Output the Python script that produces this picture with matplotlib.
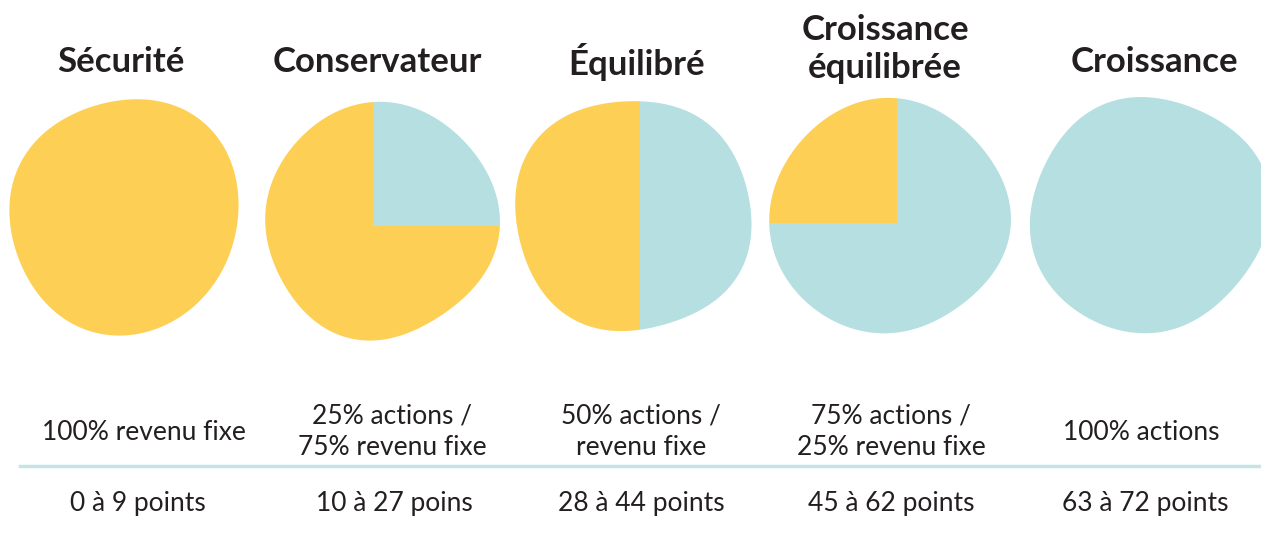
import numpy as np
import matplotlib.pyplot as plt
from matplotlib.path import Path

# Profils de placement
profils = ['Sécurité', 'Conservateur', 'Équilibré', 'Croissance\néquilibrée', 'Croissance']
actions = [0, 25, 50, 75, 100]
revenu_fixe = [100, 75, 50, 25, 0]
descriptions = ['100% revenu fixe', '25% actions /\n75% revenu fixe', '50% actions /\nrevenu fixe',
                '75% actions /\n25% revenu fixe', '100% actions']
points = ['0 à 9 points', '10 à 27 poins', '28 à 44 points', '45 à 62 points', '63 à 72 points']

JAUNE = '#FDD055'
TURQUOISE = '#B5DFE0'
TEXTE = '#231F20'
W, H = 1261, 534

# mise en page (px) : centre de chaque "blob" et rayon tous les 30° (contour irrégulier)
centres = [(125, 218), (373, 226), (640, 215), (897, 223), (1145, 216)]
contours = [
    [114, 119, 125, 117, 117, 118, 115, 115, 117, 118, 113, 110],
    [127, 125, 125, 124, 116, 112, 106, 108, 110, 116, 111, 119],
    [113, 110, 114, 115, 119, 131, 122, 125, 123, 114, 114, 113],
    [115, 113, 116, 126, 125, 128, 127, 123, 117, 108, 106, 106],
    [125, 127, 118, 120, 117, 113, 115, 117, 118, 116, 116, 115],
]
x_titres = [121, 377, 637, 885, 1154]
x_desc = [144, 392, 641, 891, 1141]
x_points = [138, 394, 641, 891, 1145]

plt.rcParams['font.family'] = ['Lato', 'DejaVu Sans']

fig = plt.figure(figsize=(W / 100, H / 100), dpi=100)
fig.patch.set_facecolor('white')


def px(x, y):
    return x / W, 1 - y / H


half = 150
for i in range(len(profils)):
    cx, cy = centres[i]
    # axes en unités pixel autour du centre
    ax = fig.add_axes([(cx - half) / W, 1 - (cy + half) / H, 2 * half / W, 2 * half / H])

    vals = [actions[i], revenu_fixe[i]]
    wedges, _ = ax.pie(vals, colors=[TURQUOISE, JAUNE], startangle=90, counterclock=False,
                       radius=170, wedgeprops=dict(linewidth=0))
    ax.set_aspect('auto')
    ax.set_xlim(-half, half)
    ax.set_ylim(-half, half)
    ax.axis('off')

    # contour lissé (on garde les premières harmoniques)
    n = 360
    coef = np.fft.rfft(contours[i])
    coef[5:] = 0
    r = np.fft.irfft(coef, n=n) * n / len(contours[i])
    t = np.linspace(0, 2 * np.pi, n, endpoint=False)
    blob = Path(np.column_stack([r * np.cos(t), r * np.sin(t)]), closed=False)
    for w in wedges:
        w.set_clip_on(True)
        w.set_clip_path(blob, ax.transData)

    # titres
    ty = 49 if '\n' in profils[i] else 62
    fig.text(*px(x_titres[i], ty), profils[i], ha='center', va='center', fontsize=25,
             fontweight='bold', color=TEXTE, linespacing=1.25)

    # descriptions et points
    fig.text(*px(x_desc[i], 432), descriptions[i], ha='center', va='center',
             fontsize=19, color=TEXTE, linespacing=1.32)
    fig.text(*px(x_points[i], 503), points[i], ha='center', va='center',
             fontsize=19, color=TEXTE)

# ligne de séparation
fig.add_artist(plt.Line2D([20 / W, 1], [1 - 466 / H] * 2, color='#C5E4E6', linewidth=2.5))

fig.savefig('out.png', dpi=100, facecolor='white')
